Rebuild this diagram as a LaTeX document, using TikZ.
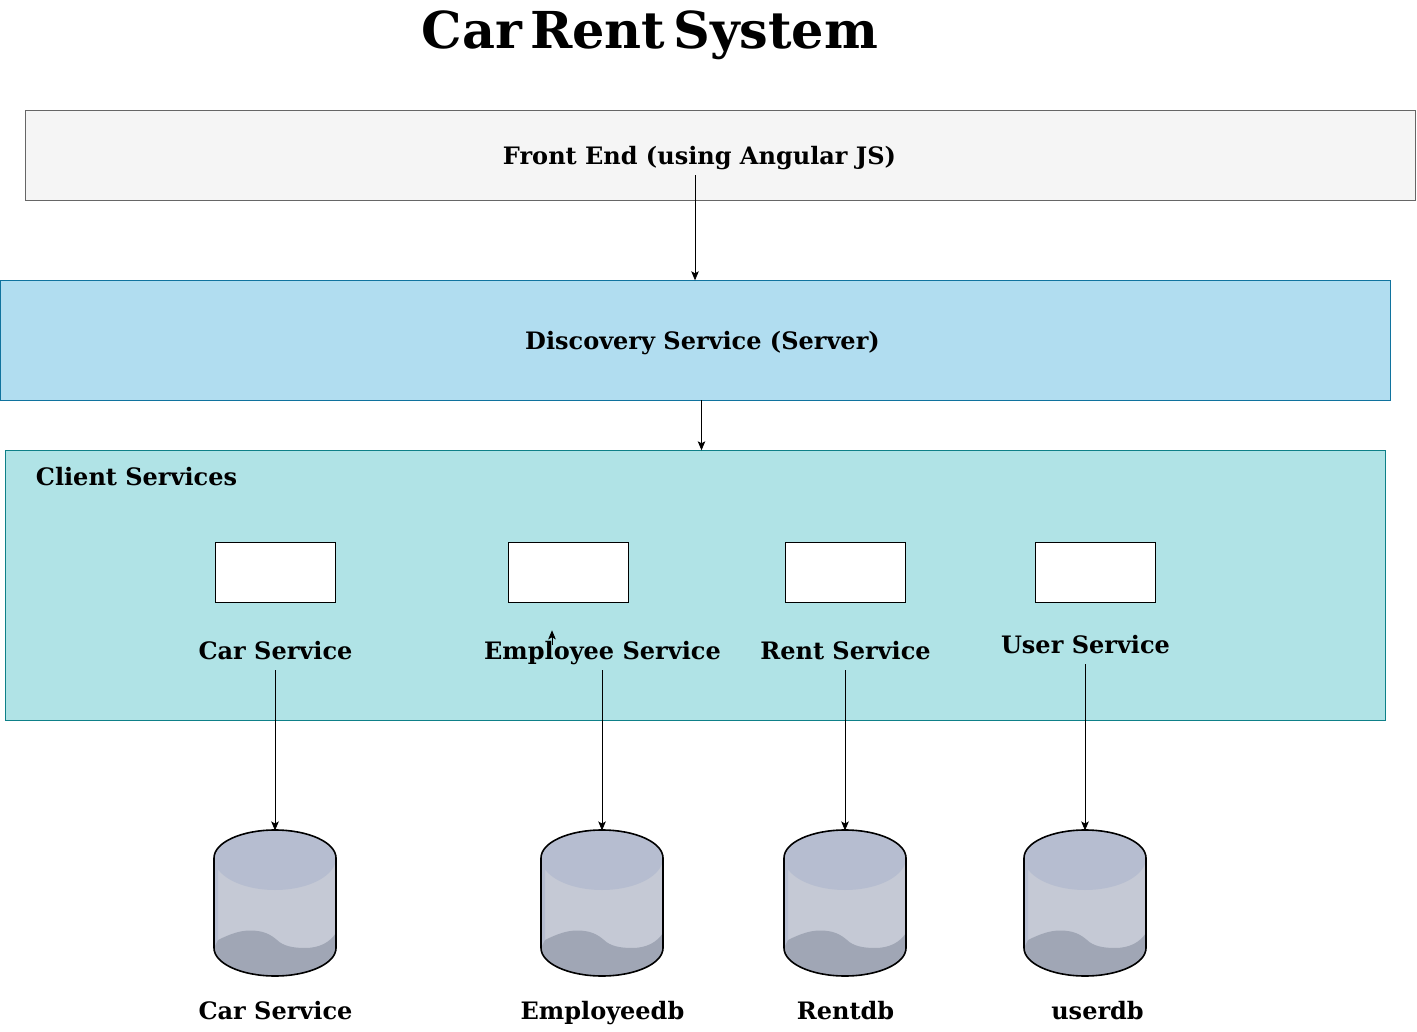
\documentclass[tikz,border=0pt]{standalone}
\usepackage{fontspec}
\setmainfont{DejaVu Serif}
\newfontfamily\titlefont{DejaVu Serif}[WordSpace=0.45]
\usetikzlibrary{arrows.meta}
\definecolor{frontfill}{HTML}{F5F5F5}
\definecolor{frontline}{HTML}{666666}
\definecolor{discfill}{HTML}{B1DDF0}
\definecolor{discline}{HTML}{10739E}
\definecolor{clientfill}{HTML}{B0E3E6}
\definecolor{clientline}{HTML}{0E8088}
\definecolor{dbtop}{HTML}{B6BDD0}
\definecolor{dbbody}{HTML}{C5C9D5}
\definecolor{dbbase}{HTML}{A0A6B5}
\tikzset{
 layer/.style={draw,line width=.8pt,minimum height=#1,inner sep=0pt},
 service/.style={draw=black,fill=white,line width=.8pt,minimum width=120,minimum height=60,inner sep=0pt},
 caption/.style={font=\bfseries\fontsize{24}{29}\selectfont,text height=22pt,text depth=3pt,minimum height=40,inner sep=0pt},
 link/.style={-{Stealth[length=9pt,width=7.5pt,inset=2pt]},line width=.8pt,shorten >=-.7pt},
 dbslot/.style={minimum width=122,minimum height=146,inner sep=0pt}
}
% one database can, name and centre of its top edge
\newcommand{\dbcan}[3]{
 \node[dbslot] (#1) at (#2,#3+73) {};
 \begin{scope}[shift={(#2,#3)}]
  \fill[dbbody] (-61,28) arc[start angle=180,end angle=360,x radius=61,y radius=28] -- (61,118) arc[start angle=0,end angle=180,x radius=61,y radius=28] -- cycle;
  \fill[dbtop] (-61,28) -- (-57,28) -- (-57,112) -- (-61,118) -- cycle;
  \fill[dbbase] (-61,118) -- (-57,110) .. controls (-45,104) and (-35,100.5) .. (-25,100.5) .. controls (-12,100.5) and (-5,104) .. (2,110) .. controls (8,116) and (18,118) .. (30,118) .. controls (45,118) and (55,112) .. (61,103) -- (61,118) arc[start angle=0,end angle=180,x radius=61,y radius=28] -- cycle;
  \fill[dbtop] (-61,28) arc[start angle=180,end angle=360,x radius=61,y radius=28] arc[start angle=0,end angle=180,x radius=61,y radius=32] -- cycle;
  \draw[line width=1.6pt] (-61,28) arc[start angle=180,end angle=360,x radius=61,y radius=28] -- (61,118) arc[start angle=0,end angle=180,x radius=61,y radius=28] -- cycle;
 \end{scope}
}
\begin{document}
\begin{tikzpicture}[x=1pt,y=-1pt]
 \useasboundingbox[fill=white] (0,0) rectangle (1417,1032);
 \node[font=\titlefont\bfseries\fontsize{50.9}{60}\selectfont,inner sep=0pt] (title) at (650,35) {Car Rent System};

 \node[layer=90,minimum width=1390,draw=frontline,fill=frontfill] (front) at (720,155) {};
 \node[caption] (frontlabel) at (699.5,155) {Front End (using Angular JS)};
 \node[layer=120,minimum width=1390,draw=discline,fill=discfill] (discovery) at (695,340) {};
 \node[caption] (disclabel) at (702.5,340) {Discovery Service (Server)};
 \node[layer=270,minimum width=1380,draw=clientline,fill=clientfill] (client) at (695,585) {};
 \node[caption] (clientlabel) at (136.5,476) {Client Services};

 \node[service] (carbox) at (275,572) {};
 \node[service] (empbox) at (568.7,572) {};
 \node[service] (rentbox) at (845,572) {};
 \node[service] (userbox) at (1095,572) {};

 \node[caption] (carlabel) at (275.5,650) {Car Service};
 \node[caption] (emplabel) at (602.5,650) {Employee Service};
 \node[caption] (rentlabel) at (845.5,650) {Rent Service};
 \node[caption] (userlabel) at (1085.5,644) {User Service};

 \dbcan{cardb}{275}{830}
 \dbcan{empdb}{602}{830}
 \dbcan{rentdb}{845}{830}
 \dbcan{userdb}{1085}{830}

 \node[caption] (cardblabel) at (275.5,1010) {Car Service};
 \node[caption] (empdblabel) at (602.5,1010) {Employeedb};
 \node[caption] (rentdblabel) at (845.5,1010) {Rentdb};
 \node[caption] (userdblabel) at (1097.5,1010) {userdb};

 \draw[link] (discovery.north |- frontlabel.south) -- (discovery.north);
 \draw[link] ([xshift=6.5pt]discovery.south) -- ([xshift=6.5pt]client.north);
 \draw[link] (cardb.north |- carlabel.south) -- (cardb.north);
 \draw[link] (empdb.north |- emplabel.south) -- (empdb.north);
 \draw[link] (rentdb.north |- rentlabel.south) -- (rentdb.north);
 \draw[link] (userdb.north |- userlabel.south) -- (userdb.north);

 % stray stub above the employee label
 \coordinate (stubfrom) at (552,645);
 \coordinate (stubto) at (552,631);
 \draw[link] (stubfrom) -- (stubto);
\end{tikzpicture}
\end{document}
